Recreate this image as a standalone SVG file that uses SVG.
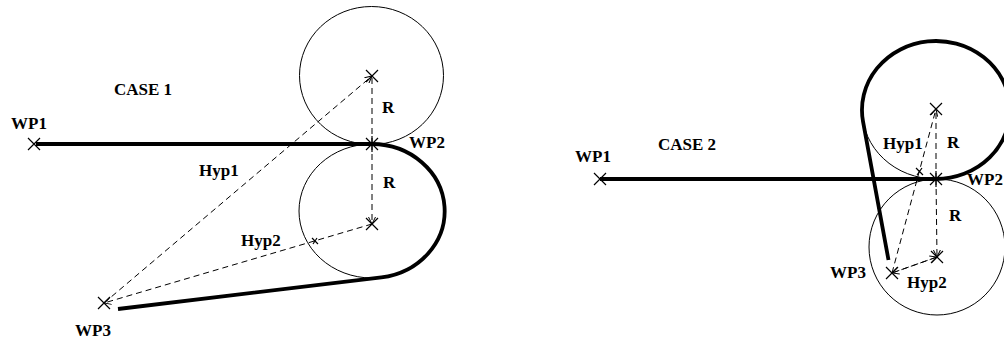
<svg xmlns="http://www.w3.org/2000/svg" width="1004" height="338" viewBox="0 0 1004 338">
  <style>
    .bg { fill: #ffffff; }
    .circ { fill: none; stroke: #000; stroke-width: 1; }
    .thick { fill: none; stroke: #000; stroke-width: 3.8; stroke-linejoin: round; }
    .dash { fill: none; stroke: #000; stroke-width: 1; stroke-dasharray: 6 4; }
    .x { fill: none; stroke: #000; stroke-width: 1.2; }
    .lbl { font-family: "Liberation Serif", "Times New Roman", serif; font-weight: bold; font-size: 17px; fill: #000; }
  </style>
  <defs>
    <marker id="arr" viewBox="0 0 8 8" refX="7" refY="4" markerWidth="8" markerHeight="8" markerUnits="userSpaceOnUse" orient="auto">
      <path d="M0,0.5 L7,4 L0,7.5" fill="none" stroke="#000" stroke-width="1"/>
    </marker>
    <g id="cross">
      <path d="M-6,-6 L6,6 M-6,6 L6,-6" class="x"/>
    </g>
  </defs>
  <rect class="bg" x="0" y="0" width="1004" height="338"/>

  <!-- CASE 1 -->
  <g id="case1-circle-top"><ellipse class="circ" cx="371.5" cy="75.5" rx="72" ry="69"/></g>
  <g id="case1-circle-bottom"><ellipse class="circ" cx="372" cy="211" rx="73" ry="67"/></g>

  <g id="case1-connectors">
    <path class="thick" d="M36 144 H372 A73 67 0 0 1 381.4 277.4 L118 309"/>
    <line class="dash" x1="104" y1="303" x2="372" y2="76" marker-end="url(#arr)"/>
    <line class="dash" x1="372" y1="224" x2="104" y2="303" marker-end="url(#arr)"/>
    <line class="dash" x1="372" y1="144" x2="372" y2="76"/>
    <line class="dash" x1="372" y1="144" x2="372" y2="224" marker-end="url(#arr)"/>
    <path class="x" d="M312 238 L318 244 M313 244 L317 238"/>
  </g>

  <g id="case1-WP1"><use href="#cross" x="34" y="144"/><text class="lbl" x="11" y="129">WP1</text></g>
  <g id="case1-WP2"><use href="#cross" x="372" y="144"/><path class="x" d="M372 136 V152 M364 144 H380"/><text class="lbl" x="409" y="148">WP2</text></g>
  <g id="case1-WP3"><use href="#cross" x="104" y="303"/><text class="lbl" x="75" y="336">WP3</text></g>
  <g id="case1-center-top"><use href="#cross" x="372" y="76"/></g>
  <g id="case1-center-bottom"><use href="#cross" x="372" y="224"/></g>
  <g id="case1-labels">
    <text class="lbl" x="114" y="95">CASE 1</text>
    <text class="lbl" x="382" y="113">R</text>
    <text class="lbl" x="383" y="188">R</text>
    <text class="lbl" x="199" y="176">Hyp1</text>
    <text class="lbl" x="241" y="246">Hyp2</text>
  </g>

  <!-- CASE 2 -->
  <g id="case2-circle-top"><ellipse class="circ" cx="936" cy="110" rx="74" ry="69"/></g>
  <g id="case2-circle-bottom"><circle class="circ" cx="937" cy="247" r="68"/></g>

  <g id="case2-connectors">
    <path class="thick" d="M600 179 H936 A74 69 0 1 0 863 121.4 L888.5 260"/>
    <line class="dash" x1="892" y1="273" x2="936" y2="109" marker-end="url(#arr)"/>
    <line class="dash" x1="937" y1="257" x2="892" y2="273" marker-end="url(#arr)"/>
    <line class="dash" x1="892" y1="273" x2="937" y2="257" marker-end="url(#arr)"/>
    <line class="dash" x1="936" y1="179" x2="936" y2="109"/>
    <line class="dash" x1="936" y1="179" x2="937" y2="257" marker-end="url(#arr)"/>
    <path class="x" d="M916 168 L923 175 M917 175 L922 168"/>
  </g>

  <g id="case2-WP1"><use href="#cross" x="600" y="179"/><text class="lbl" x="575" y="162">WP1</text></g>
  <g id="case2-WP2"><use href="#cross" x="936" y="179"/><path class="x" d="M936 171 V187 M928 179 H944"/><text class="lbl" x="967" y="185">WP2</text></g>
  <g id="case2-WP3"><use href="#cross" x="892" y="273"/><text class="lbl" x="830" y="278">WP3</text></g>
  <g id="case2-center-top"><use href="#cross" x="936" y="109"/></g>
  <g id="case2-center-bottom"><use href="#cross" x="937" y="257"/></g>
  <g id="case2-labels">
    <text class="lbl" x="658" y="150">CASE 2</text>
    <text class="lbl" x="947" y="148">R</text>
    <text class="lbl" x="949" y="221">R</text>
    <text class="lbl" x="883" y="149">Hyp1</text>
    <text class="lbl" x="907" y="288">Hyp2</text>
  </g>
</svg>
